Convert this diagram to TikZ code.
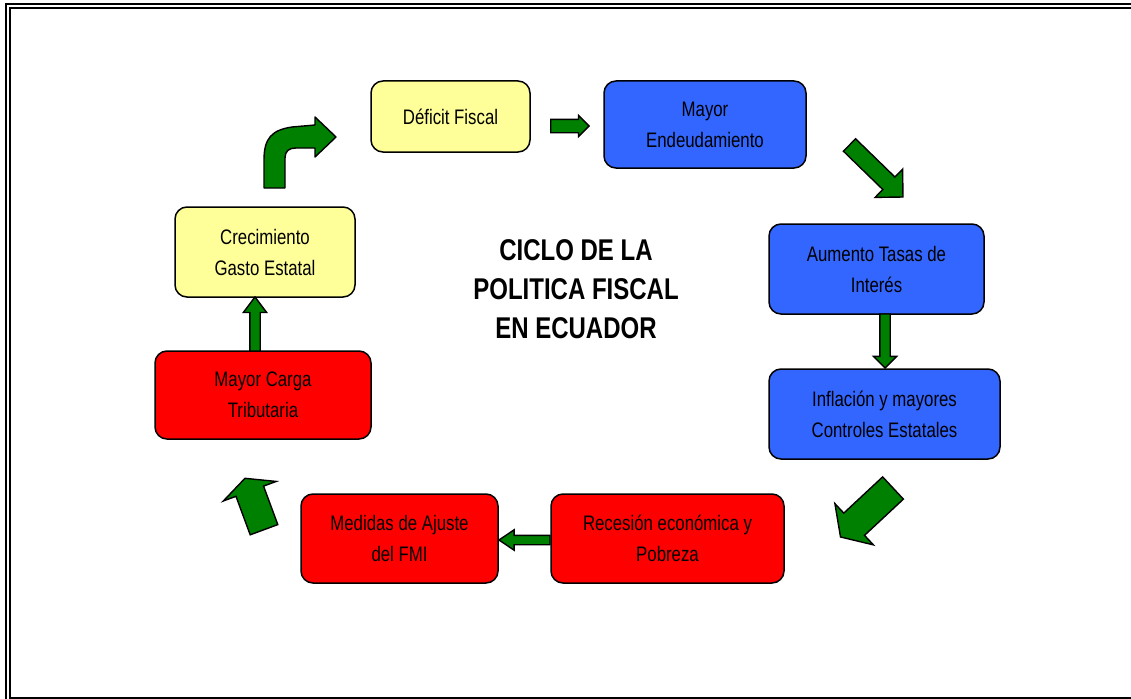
\documentclass[tikz,border=0pt]{standalone}
\usepackage{fontspec}
\usepackage{tikz}
\usetikzlibrary{shapes.arrows}
\newfontfamily\boxfont[FakeStretch=0.8]{Liberation Sans}
\definecolor{ylw}{HTML}{FFFF99}
\definecolor{blu}{HTML}{3366FF}
\definecolor{rd}{HTML}{FF0000}
\definecolor{grn}{HTML}{008000}
\tikzset{
box/.style={draw, line width=1.5pt, rounded corners=12pt, inner sep=0pt, align=center, font=\boxfont\fontsize{21}{31}\selectfont}, % the rounded boxes
garrow/.style={single arrow, draw, fill=grn, line width=1.4pt, inner sep=0pt, outer sep=0pt, minimum width=0pt, anchor=tail}, % green block arrows
bent/.style={draw, fill=grn, line width=1.4pt, line join=round}, % the bent arrow
}
\begin{document}
\begin{tikzpicture}[x=1pt, y=-1pt]
		\useasboundingbox (0,0) rectangle (1131,698);
		\clip (0,0) rectangle (1131,698);
		% double frame
		\draw[line width=2pt] (6,4) rectangle (1140,712);
		\draw[line width=2pt] (10,8) rectangle (1136,697.5);
		\node[box, fill=ylw, minimum width=159pt, minimum height=71pt] (deficit) at (450.5,116.5) {Déficit Fiscal};
		\node[box, fill=blu, minimum width=202pt, minimum height=87pt] (endeud) at (705,124.5) {Mayor\\Endeudamiento};
		\node[box, fill=blu, minimum width=215pt, minimum height=90pt] (tasas) at (876.5,269) {Aumento Tasas de\\Interés};
		\node[box, fill=blu, minimum width=231pt, minimum height=90pt] (inflac) at (884.5,414) {Inflación y mayores\\Controles Estatales};
		\node[box, fill=rd, minimum width=233pt, minimum height=89pt] (recesion) at (667.5,538.5) {Recesión económica y\\Pobreza};
		\node[box, fill=rd, minimum width=197pt, minimum height=89pt] (ajuste) at (399.5,538.5) {Medidas de Ajuste\\del FMI};
		\node[box, fill=rd, minimum width=216pt, minimum height=88pt] (carga) at (263,395) {Mayor Carga\\Tributaria};
		\node[box, fill=ylw, minimum width=180pt, minimum height=90pt] (gasto) at (265,252) {Crecimiento\\Gasto Estatal};
		\node[font=\boxfont\bfseries\fontsize{30}{39}\selectfont, align=center] (titulo) at (576,289) {CICLO DE LA\\POLITICA FISCAL\\EN ECUADOR};
		% block arrows
		\node[garrow, rotate=0, minimum height=38.5pt, inner ysep=6pt, single arrow head extend=4pt, single arrow tip angle=90] (a1) at (550.7,126) {};
		\node[garrow, rotate=-44.2, minimum height=74.6pt, inner ysep=8pt, single arrow head extend=11pt, single arrow tip angle=90] (a2) at (849.5,145) {};
		\node[garrow, rotate=-90, minimum height=54pt, inner ysep=4.5pt, single arrow head extend=6.5pt, single arrow tip angle=90] (a3) at (885,314) {};
		\node[garrow, rotate=223, minimum height=71.8pt, inner ysep=14.5pt, single arrow head extend=13pt, single arrow tip angle=113] (a4) at (893,488) {};
		\node[garrow, rotate=180, minimum height=51pt, inner ysep=4pt, single arrow head extend=5.5pt, single arrow tip angle=68] (a5) at (550,540) {};
		\node[garrow, rotate=110.3, minimum height=54.8pt, inner ysep=14pt, single arrow head extend=13.5pt, single arrow tip angle=128] (a6) at (264,529.7) {};
		\node[garrow, rotate=90, minimum height=54pt, inner ysep=4.5pt, single arrow head extend=6.5pt, single arrow tip angle=74] (a7) at (255,351) {};
		\draw[bent] (264,188) -- (264,160) .. controls (264,138) and (272,130) .. (292,127) -- (315,125) -- (315,117) -- (336,137) -- (315,157) -- (315,148) -- (296,148) .. controls (289,148) and (285,151) .. (285,158) -- (285,188) -- cycle;
\end{tikzpicture}
\end{document}
